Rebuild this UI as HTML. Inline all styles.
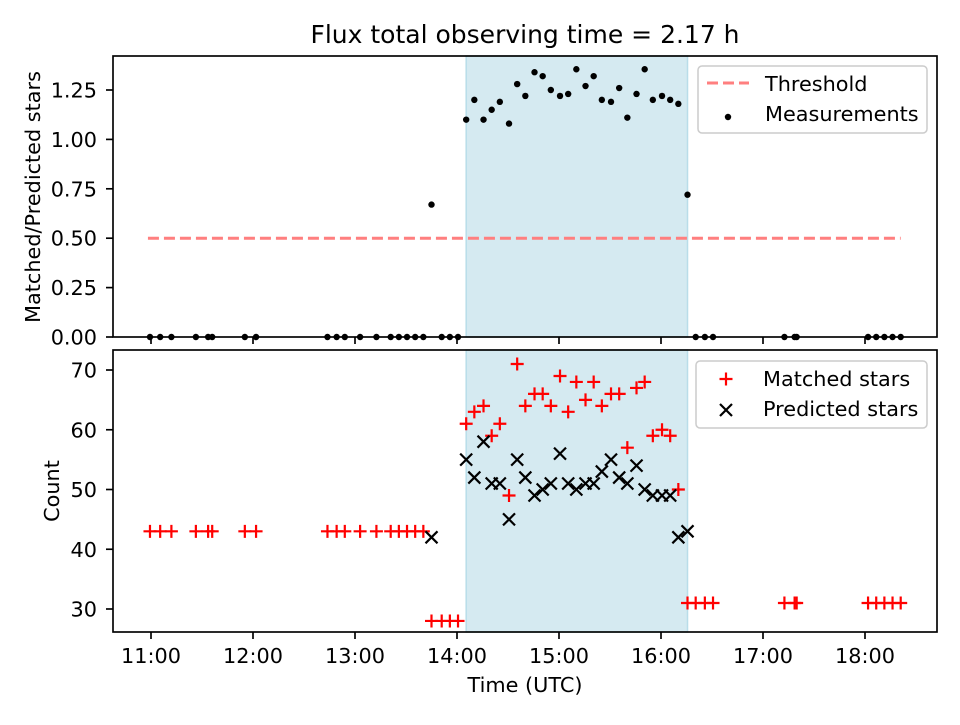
<!DOCTYPE html>
<html><head><meta charset="utf-8"><style>
body{margin:0;background:#fff}
svg text{font-family:"DejaVu Sans","Liberation Sans",sans-serif;fill:#000}
</style></head><body>
<svg id="c" width="960" height="720" viewBox="0 0 960 720" xmlns="http://www.w3.org/2000/svg"></svg>
<script>
const times=[10.99,11.09,11.20,11.44,11.56,11.60,11.92,12.03,12.73,12.82,12.90,13.05,13.21,13.35,13.43,13.51,13.59,13.67,13.75,13.85,13.93,14.01,
14.09,14.17,14.26,14.34,14.42,14.51,14.59,14.67,14.76,14.84,14.92,15.01,15.09,15.17,15.26,15.34,15.42,15.51,15.59,15.67,15.76,15.84,15.92,16.01,16.09,16.17,16.26,
16.34,16.43,16.51,17.21,17.31,17.33,18.03,18.11,18.19,18.27,18.35];
const ratio=[0,0,0,0,0,0,0,0,0,0,0,0,0,0,0,0,0,0,0.67,0,0,0,
1.10,1.20,1.10,1.15,1.19,1.08,1.28,1.22,1.34,1.32,1.25,1.22,1.23,1.355,1.27,1.32,1.20,1.19,1.26,1.11,1.23,1.355,1.20,1.22,1.20,1.18,0.72,
0,0,0,0,0,0,0,0,0,0,0];
const matched=[43,43,43,43,43,43,43,43,43,43,43,43,43,43,43,43,43,43,28,28,28,28,
61,63,64,59,61,49,71,64,66,66,64,69,63,68,65,68,64,66,66,57,67,68,59,60,59,50,31,
31,31,31,31,31,31,31,31,31,31,31];
const predTimes=[13.75,14.09,14.17,14.26,14.34,14.42,14.51,14.59,14.67,14.76,14.84,14.92,15.01,15.09,15.17,15.26,15.34,15.42,15.51,15.59,15.67,15.76,15.84,15.92,16.01,16.09,16.17,16.26];
const predicted=[42,55,52,58,51,51,45,55,52,49,50,51,56,51,50,51,51,53,55,52,51,54,50,49,49,49,42,43];
const xTicks=[11,12,13,14,15,16,17,18];
const xTickLabels=["11:00","12:00","13:00","14:00","15:00","16:00","17:00","18:00"];
const topTicks=[0,0.25,0.5,0.75,1.0,1.25];
const topTickLabels=["0.00","0.25","0.50","0.75","1.00","1.25"];
const botTicks=[30,40,50,60,70];
const threshold=0.5, thrStart=10.97, thrEnd=18.35;
const shadeStart=14.09, shadeEnd=16.26;

const svg=document.getElementById('c');
const NS='http://www.w3.org/2000/svg';
function mk(tag,attrs,parent){const e=document.createElementNS(NS,tag);for(const k in attrs)e.setAttribute(k,attrs[k]);(parent||svg).appendChild(e);return e;}
const L=113,R=937,FS=20.8,LW=1.67;
const x=h=>151+(h-11)*102;
const yT=v=>337-v*197.6;
const yB=v=>609-(v-30)*5.975;

let t=mk('text',{x:525,y:43,'font-size':25,'text-anchor':'middle'});t.textContent='Flux total observing time = 2.17 h';


function panel(top,bot,name){
  const g=mk('g',{});
  
  
  const s=mk('rect',{x:x(shadeStart),y:top,width:x(shadeEnd)-x(shadeStart),height:bot-top,fill:'#d5eaf1',stroke:'#b9dde9','stroke-width':1.5},g);
  
  
  return g;
}
function frame(top,bot,g){
  const f=mk('rect',{x:L,y:top,width:R-L,height:bot-top,fill:'none',stroke:'#000','stroke-width':LW},g);
  
  
}
const gT=panel(56,337,'ratio-panel');
const th=mk('line',{x1:x(thrStart),x2:x(thrEnd),y1:yT(threshold),y2:yT(threshold),stroke:'#ff7f7f','stroke-width':3,'stroke-dasharray':'11,5'},gT);


times.forEach((h,i)=>{const c=mk('circle',{cx:x(h),cy:yT(ratio[i]),r:3.2,fill:'#000'},gT);

});
frame(56,337,gT);
topTicks.forEach((v,i)=>{mk('line',{x1:L-7,x2:L,y1:yT(v),y2:yT(v),stroke:'#000','stroke-width':LW},gT);
const tt=mk('text',{x:L-16,y:yT(v)+7.5,'font-size':FS,'text-anchor':'end'},gT);tt.textContent=topTickLabels[i];

});
xTicks.forEach(h=>mk('line',{x1:x(h),x2:x(h),y1:337,y2:344,stroke:'#000','stroke-width':LW},gT));
t=mk('text',{x:0,y:0,'font-size':FS,'text-anchor':'middle',transform:'translate(40,197) rotate(-90)'});t.textContent='Matched/Predicted stars';

const lg=mk('g',{});
mk('rect',{x:698,y:66,width:229,height:67,rx:4,fill:'#fff','fill-opacity':0.8,stroke:'#ccc','stroke-width':1.5},lg);
mk('line',{x1:707,x2:749,y1:83,y2:83,stroke:'#ff7f7f','stroke-width':3,'stroke-dasharray':'11,5'},lg);
t=mk('text',{x:765,y:91,'font-size':FS},lg);t.textContent='Threshold';
mk('circle',{cx:728,cy:117,r:3.2,fill:'#000'},lg);
t=mk('text',{x:765,y:121,'font-size':FS},lg);t.textContent='Measurements';

const gB=panel(350,632,'count-panel');
function plus(cx,cy,g){return mk('path',{d:`M${cx-6.5},${cy}H${cx+6.5}M${cx},${cy-6.5}V${cy+6.5}`,stroke:'#ff0000','stroke-width':2.2},g);}
function cross(cx,cy,g){return mk('path',{d:`M${cx-6},${cy-6}L${cx+6},${cy+6}M${cx-6},${cy+6}L${cx+6},${cy-6}`,stroke:'#000','stroke-width':2.2},g);}
times.forEach((h,i)=>{const p=plus(x(h),yB(matched[i]),gB);

});
predTimes.forEach((h,i)=>{const p=cross(x(h),yB(predicted[i]),gB);

});
frame(350,632,gB);
botTicks.forEach(v=>{mk('line',{x1:L-7,x2:L,y1:yB(v),y2:yB(v),stroke:'#000','stroke-width':LW},gB);
const tt=mk('text',{x:L-16,y:yB(v)+7.5,'font-size':FS,'text-anchor':'end'},gB);tt.textContent=String(v);

});
xTicks.forEach((h,i)=>{mk('line',{x1:x(h),x2:x(h),y1:632,y2:639,stroke:'#000','stroke-width':LW},gB);
const tt=mk('text',{x:x(h),y:663,'font-size':FS,'text-anchor':'middle'},gB);tt.textContent=xTickLabels[i];

});
t=mk('text',{x:0,y:0,'font-size':FS,'text-anchor':'middle',transform:'translate(59,491) rotate(-90)'});t.textContent='Count';

t=mk('text',{x:525,y:692,'font-size':FS,'text-anchor':'middle'});t.textContent='Time (UTC)';

const lg2=mk('g',{});
mk('rect',{x:696,y:361,width:231,height:67,rx:4,fill:'#fff','fill-opacity':0.8,stroke:'#ccc','stroke-width':1.5},lg2);
plus(726,379,lg2);
t=mk('text',{x:763,y:386,'font-size':FS},lg2);t.textContent='Matched stars';
cross(726,410,lg2);
t=mk('text',{x:763,y:416,'font-size':FS},lg2);t.textContent='Predicted stars';
</script>
</body></html>
